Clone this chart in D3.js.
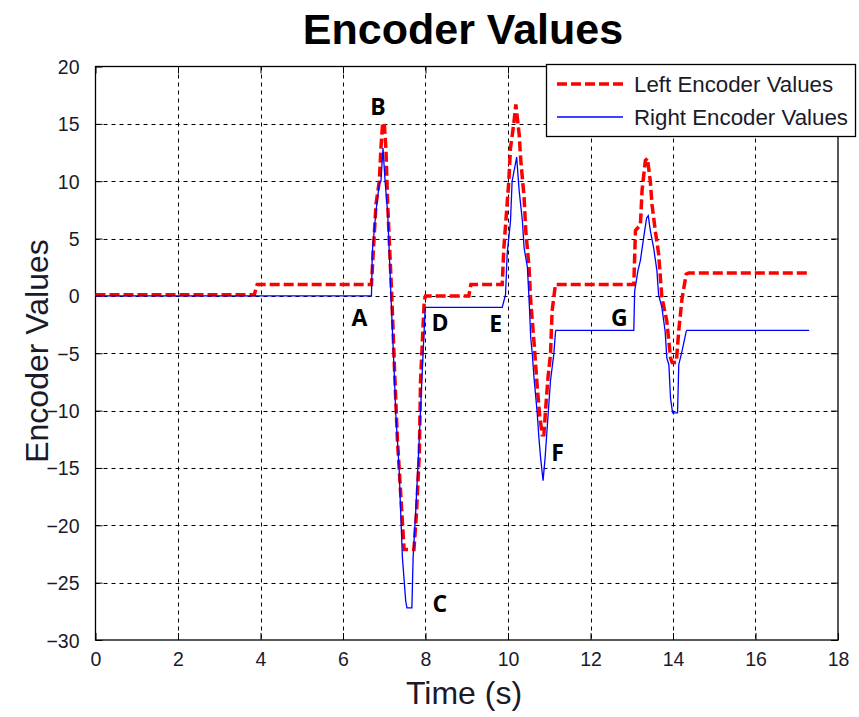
<!DOCTYPE html>
<html>
<head>
<meta charset="utf-8">
<script src="https://cdn.jsdelivr.net/npm/d3@7"></script>
<style>
  html, body { margin: 0; padding: 0; background: #fff; }
  svg { display: block; font-family: "Liberation Sans", Arial, sans-serif; }
</style>
</head>
<body>
<svg id="chart" width="859" height="717"></svg>
<script>
// ---- Data ----
const xTicks = [0, 2, 4, 6, 8, 10, 12, 14, 16, 18];
const yTicks = [20, 15, 10, 5, 0, -5, -10, -15, -20, -25, -30];

const leftTime = [0, 3.85, 3.92, 6.69, 6.74, 6.8, 6.88, 6.92, 6.96, 7.0, 7.04, 7.08, 7.13, 7.18, 7.25, 7.32, 7.4, 7.48, 7.72, 7.78, 7.85, 7.88, 7.97, 8.0, 9.05, 9.1, 9.86, 9.9, 10.02, 10.06, 10.14, 10.19, 10.27, 10.31, 10.39, 10.43, 10.51, 10.55, 10.63, 10.71, 10.77, 10.83, 10.87, 10.91, 10.97, 11.03, 11.07, 11.15, 13.05, 13.09, 13.21, 13.25, 13.33, 13.38, 13.45, 13.49, 13.57, 13.65, 13.73, 13.85, 13.94, 13.98, 14.08, 14.14, 14.22, 14.32, 14.38, 17.3];
const leftValues = [0.1, 0.1, 1, 1, 4.2, 8, 10, 12.9, 15, 15.1, 12.9, 8.3, 4.2, 0.2, -6.5, -12.6, -17.3, -22.1, -22.1, -19, -13.8, -7.4, -0.4, 0, 0, 1, 1, 4.2, 10, 12.9, 15, 16.7, 14.1, 11.8, 8.6, 5.7, 2.5, -0.4, -4, -8, -10.5, -12.1, -12.1, -10, -7.1, -5.1, -1.3, 1, 1, 5.7, 6.2, 9.2, 11.8, 12, 10, 8, 5.7, 3.7, -0.1, -2.2, -5.4, -5.8, -5.8, -3, -0.2, 1.9, 2, 2];

const rightTime = [0, 6.69, 6.71, 6.8, 6.88, 6.92, 6.97, 7.02, 7.08, 7.13, 7.16, 7.24, 7.28, 7.36, 7.4, 7.44, 7.52, 7.55, 7.67, 7.7, 7.76, 7.84, 7.93, 7.99, 8.0, 9.86, 9.94, 9.98, 10.06, 10.1, 10.21, 10.27, 10.35, 10.39, 10.47, 10.52, 10.55, 10.59, 10.63, 10.71, 10.75, 10.79, 10.85, 10.9, 10.95, 11.03, 11.11, 11.15, 11.16, 13.05, 13.07, 13.15, 13.21, 13.29, 13.36, 13.4, 13.45, 13.53, 13.61, 13.65, 13.73, 13.81, 13.85, 13.9, 13.94, 13.99, 14.11, 14.14, 14.22, 14.32, 14.34, 17.3];
const rightValues = [0, 0, 3.8, 7.4, 9.8, 10, 12.9, 10, 7.4, 3.1, 0.2, -6.5, -10.3, -15, -19, -22.8, -26.6, -27.2, -27.2, -22.8, -19, -13.2, -5.9, -1.3, -1, -1, 0.1, 3.7, 6.5, 10, 12.1, 9.2, 6.5, 4.2, 2.5, -1, -3.6, -5.1, -7.1, -10.3, -12.4, -14.1, -16.1, -14.1, -11.5, -7.4, -5.1, -3.2, -3, -3, 0.4, 2.2, 3.1, 5.1, 6.8, 7, 5.7, 4.2, 2.2, 0.1, -1, -3.1, -5.4, -6, -8.9, -10.2, -10.2, -6, -4.8, -3.1, -3, -3];

const seriesNames = ["Left Encoder Values", "Right Encoder Values"];
const annoLabels = ["A", "B", "C", "D", "E", "F", "G"];
const annoTime = [6.4, 6.85, 8.35, 8.35, 9.7, 11.2, 12.7];
const annoValue = [-1.9, 16.5, -26.8, -2.3, -2.4, -13.7, -1.9];

// ---- Layout ----
const svg = d3.select("#chart");
const M = { left: 95.5, right: 838, top: 66.5, bottom: 640 };
const x = d3.scaleLinear().domain([0, 18]).range([M.left, M.right]);
const y = d3.scaleLinear().domain([-30, 20]).range([M.bottom, M.top]);

// Grid
const grid = svg.append("g").attr("stroke", "#000").attr("stroke-width", 1).attr("stroke-dasharray", "4,4");
grid.selectAll("line.vx").data(xTicks.filter(d => d > 0 && d < 18)).join("line")
  .attr("x1", d => Math.round(x(d)) + 0.5).attr("x2", d => Math.round(x(d)) + 0.5)
  .attr("y1", M.top).attr("y2", M.bottom);
grid.selectAll("line.hy").data(yTicks.filter(d => d > -30 && d < 20)).join("line")
  .attr("y1", d => Math.round(y(d)) + 0.5).attr("y2", d => Math.round(y(d)) + 0.5)
  .attr("x1", M.left).attr("x2", M.right);

// Axes (MATLAB-like inward ticks on all sides)
const tickLen = 7;
const fmt = d3.format("d");
const axB = svg.append("g").attr("transform", `translate(0,${M.bottom})`)
  .call(d3.axisBottom(x).tickValues(xTicks).tickSizeInner(-tickLen).tickSizeOuter(0).tickPadding(12).tickFormat(fmt));
const axT = svg.append("g").attr("transform", `translate(0,${M.top})`)
  .call(d3.axisTop(x).tickValues(xTicks).tickSizeInner(-tickLen).tickSizeOuter(0).tickFormat(""));
const axL = svg.append("g").attr("transform", `translate(${M.left},0)`)
  .call(d3.axisLeft(y).tickValues(yTicks).tickSizeInner(-tickLen).tickSizeOuter(0).tickPadding(16).tickFormat(fmt));
const axR = svg.append("g").attr("transform", `translate(${M.right},0)`)
  .call(d3.axisRight(y).tickValues(yTicks).tickSizeInner(-tickLen).tickSizeOuter(0).tickFormat(""));
[axB, axT, axL, axR].forEach(a => {
  a.select(".domain").remove();
  a.selectAll(".tick line").attr("stroke", "#000").attr("stroke-width", 1);
  a.selectAll("text").attr("fill", "#1a1a2a").style("font-size", "19.5px")
    .style("font-family", "'Liberation Sans', Arial, sans-serif");
});
axB.selectAll("text").attr("dy", "0.71em");
axL.selectAll("text").attr("dy", "0.36em");

// Box
svg.append("rect").attr("x", M.left).attr("y", M.top).attr("width", M.right - M.left).attr("height", M.bottom - M.top)
  .attr("fill", "none").attr("stroke", "#000").attr("stroke-width", 1.3);

// Lines
const leftData = leftTime.map((t, i) => [t, leftValues[i]]);
const rightData = rightTime.map((t, i) => [t, rightValues[i]]);
const line = d3.line().x(d => x(d[0])).y(d => y(d[1]));
svg.append("path").datum(leftData).attr("d", line).attr("fill", "none")
  .attr("stroke", "#ff0000").attr("stroke-width", 3.5).attr("stroke-dasharray", "10,4").attr("stroke-linejoin", "miter");
svg.append("path").datum(rightData).attr("d", line).attr("fill", "none")
  .attr("stroke", "#0000ff").attr("stroke-width", 1.3);

// Annotations
svg.append("g").selectAll("text").data(annoLabels).join("text")
  .attr("x", (d, i) => x(annoTime[i])).attr("y", (d, i) => y(annoValue[i]))
  .attr("text-anchor", "middle").attr("dy", "0.36em")
  .style("font-family", "'Open Sans', 'Liberation Sans', sans-serif").style("font-weight", "bold").style("font-size", "23px")
  .attr("fill", "#000").text(d => d);

// Legend
const lg = svg.append("g");
lg.append("rect").attr("x", 546.5).attr("y", 64.5).attr("width", 309).attr("height", 72)
  .attr("fill", "#fff").attr("stroke", "#000").attr("stroke-width", 1.3);
const lgStyles = [
  { stroke: "#ff0000", w: 3.5, dash: "10,4", ly: 84, ty: 92 },
  { stroke: "#0000ff", w: 1.3, dash: null, ly: 117, ty: 125 }
];
seriesNames.forEach((name, i) => {
  const s = lgStyles[i];
  lg.append("line").attr("x1", 557).attr("x2", 623).attr("y1", s.ly).attr("y2", s.ly)
    .attr("stroke", s.stroke).attr("stroke-width", s.w).attr("stroke-dasharray", s.dash);
  lg.append("text").attr("x", 634).attr("y", s.ty).style("font-size", "22.3px").attr("fill", "#1a1a2a").text(name);
});

// Titles
svg.append("text").attr("x", 463).attr("y", 44).attr("text-anchor", "middle")
  .style("font-size", "43px").style("font-weight", "bold").attr("fill", "#000").text("Encoder Values");
svg.append("text").attr("x", 464).attr("y", 704).attr("text-anchor", "middle")
  .style("font-size", "32px").attr("fill", "#1a1a2a").text("Time (s)");
svg.append("text").attr("transform", "translate(48,351) rotate(-90)").attr("text-anchor", "middle")
  .style("font-size", "32px").attr("fill", "#1a1a2a").text("Encoder Values");
</script>
</body>
</html>
